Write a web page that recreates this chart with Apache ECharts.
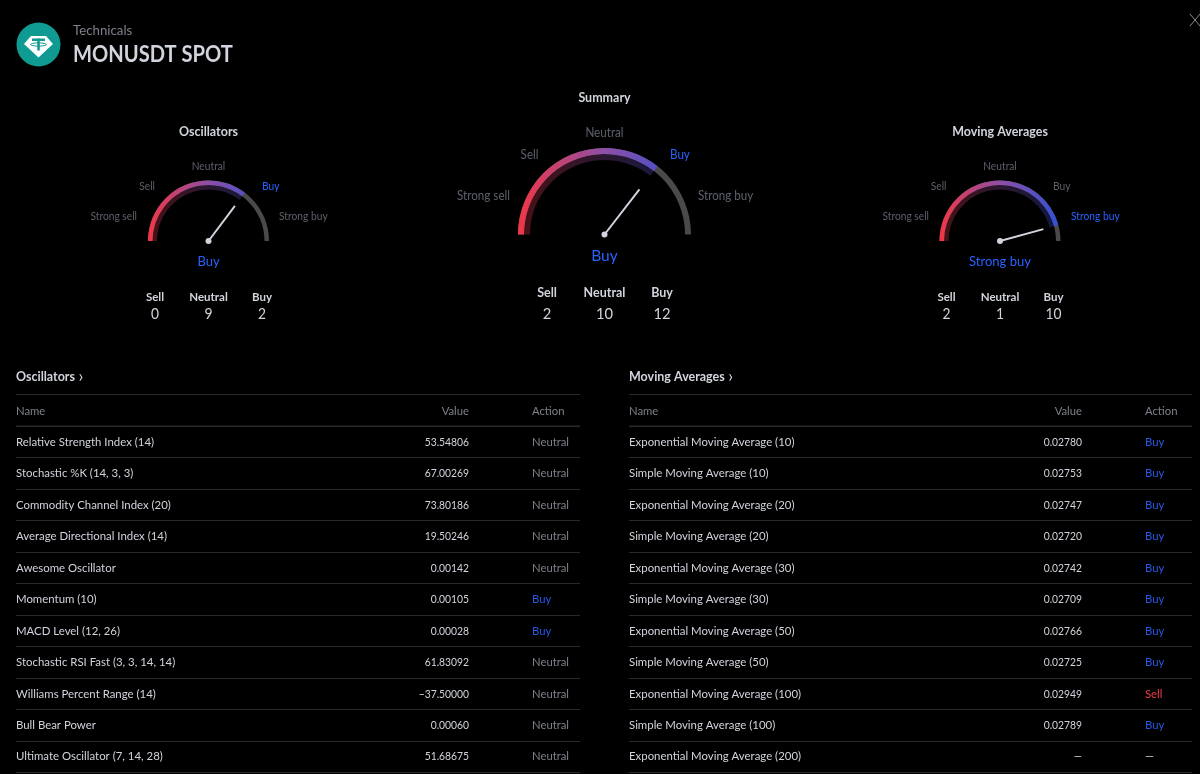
<!DOCTYPE html>
<html><head><meta charset="utf-8">
<style>html,body{margin:0;padding:0;background:#000}#c{width:1200px;height:774px}</style>
<script src="https://cdn.jsdelivr.net/npm/echarts@6/dist/echarts.min.js"></script>
</head><body><div id="c"></div>
<script>
const gaugeTitles = ['Oscillators', 'Summary', 'Moving Averages'];
const gaugeValues = [0.41, 0.42, 0.83];
const gaugeVerdicts = ['Buy', 'Buy', 'Strong buy'];
const scaleLabels = ['Strong sell', 'Sell', 'Neutral', 'Buy', 'Strong buy'];
const countLabels = ['Sell', 'Neutral', 'Buy'];
const oscCounts = [0, 9, 2];
const sumCounts = [2, 10, 12];
const maCounts = [2, 1, 10];

const tableHeads = ['Name', 'Value', 'Action'];
const oscNames = ['Relative Strength Index (14)', 'Stochastic %K (14, 3, 3)', 'Commodity Channel Index (20)', 'Average Directional Index (14)', 'Awesome Oscillator', 'Momentum (10)', 'MACD Level (12, 26)', 'Stochastic RSI Fast (3, 3, 14, 14)', 'Williams Percent Range (14)', 'Bull Bear Power', 'Ultimate Oscillator (7, 14, 28)'];
const oscValues = [53.54806, 67.00269, 73.80186, 19.50246, 0.00142, 0.00105, 0.00028, 61.83092, -37.5, 0.0006, 51.68675];
const oscActions = ['Neutral', 'Neutral', 'Neutral', 'Neutral', 'Neutral', 'Buy', 'Buy', 'Neutral', 'Neutral', 'Neutral', 'Neutral'];
const maNames = ['Exponential Moving Average (10)', 'Simple Moving Average (10)', 'Exponential Moving Average (20)', 'Simple Moving Average (20)', 'Exponential Moving Average (30)', 'Simple Moving Average (30)', 'Exponential Moving Average (50)', 'Simple Moving Average (50)', 'Exponential Moving Average (100)', 'Simple Moving Average (100)', 'Exponential Moving Average (200)'];
const maValues = [0.0278, 0.02753, 0.02747, 0.0272, 0.02742, 0.02709, 0.02766, 0.02725, 0.02949, 0.02789, null];
const maActions = ['Buy', 'Buy', 'Buy', 'Buy', 'Buy', 'Buy', 'Buy', 'Buy', 'Sell', 'Buy', '—'];

const FONT = 'Lato, sans-serif';
const WHITE = '#d1d4dc', GREY = '#5d606b', MID = '#7d8089', BLUE = '#2962ff', RED = '#f23645', LINE = '#2a2a2a';
const layouts = [
  {cx: 208.5, cy: 241, r: 60.5, len: 44, titleY: 131.5, verdictY: 21, fs: 11, vfs: 13, tfs: 13, cfs: 12, nfs: 15, countLY: 297.3, countVY: 314.3, dx: 53.5,
   spots: [[137,216.3,'right'],[155,186.3,'right'],[208.5,166.3,'center'],[262,186.3,'left'],[279,216.3,'left']]},
  {cx: 604.5, cy: 234.5, r: 86.5, len: 57, titleY: 98.3, verdictY: 21, fs: 12.5, vfs: 15.5, tfs: 13, cfs: 13, nfs: 16, countLY: 292.8, countVY: 314.3, dx: 57.5,
   spots: [[510,196.3,'right'],[538.5,155.3,'right'],[604.5,133.3,'center'],[670,155.3,'left'],[698,196.3,'left']]},
  {cx: 1000, cy: 241, r: 60.5, len: 45, titleY: 131.5, verdictY: 21, fs: 11, vfs: 13, tfs: 13, cfs: 12, nfs: 15, countLY: 297.3, countVY: 314.3, dx: 53.5,
   spots: [[929,216.3,'right'],[946.5,186.3,'right'],[1000,166.3,'center'],[1053,186.3,'left'],[1071,216.3,'left']]}
];
const allCounts = [oscCounts, sumCounts, maCounts];
const g = [];
function txt(text, x, y, fill, size, align, weight, sx) {
  g.push({type: 'text', silent: true, x: x, y: y, scaleX: sx || 1,
    style: {text, x: 0, y: 0, fill, font: (weight || 'normal') + ' ' + size + 'px ' + FONT, align: align || 'left', verticalAlign: 'middle'}});
}
function rule(x1, x2, y, w) {
  g.push({type: 'rect', silent: true, shape: {x: x1, y: y, width: x2 - x1, height: w || 1}, style: {fill: LINE}});
}
const series = [];
layouts.forEach((L, i) => {
  const grad = {type: 'linear', global: true, x: L.cx - L.r, y: 0, x2: L.cx + L.r, y2: 0,
    colorStops: [{offset: 0, color: '#f23645'}, {offset: 0.5, color: '#8e4fa6'}, {offset: 1, color: '#2f50d8'}]};
  const common = {type: 'gauge', center: [L.cx, L.cy], startAngle: 180, endAngle: 0, min: -1, max: 1, silent: true, animation: false,
    axisTick: {show: false}, splitLine: {show: false}, axisLabel: {show: false}, title: {show: false}};
  const w = L.r > 70 ? 6 : 4.5;
  series.push(Object.assign({}, common, {
    radius: L.r - w, pointer: {show: false}, anchor: {show: false}, detail: {show: false},
    progress: {show: true, width: w, itemStyle: {color: grad, opacity: 0.3}},
    axisLine: {show: false},
    data: [{value: gaugeValues[i]}]
  }));
  series.push(Object.assign({}, common, {
    radius: L.r,
    progress: {show: true, width: w, itemStyle: {color: grad}},
    axisLine: {roundCap: false, lineStyle: {width: w, color: [[1, '#4a4a4a']]}},
    pointer: {show: true, icon: 'rect', length: L.len, width: 2, offsetCenter: [0, 0], itemStyle: {color: WHITE}},
    anchor: {show: true, size: 6, showAbove: true, itemStyle: {color: WHITE, borderWidth: 0}},
    detail: {show: true, valueAnimation: false, offsetCenter: [0, L.verdictY], formatter: () => gaugeVerdicts[i],
      color: BLUE, fontFamily: 'Lato', fontWeight: 'normal', fontSize: L.vfs},
    data: [{value: gaugeValues[i]}]
  }));
  txt(gaugeTitles[i], L.cx, L.titleY, WHITE, L.tfs, 'center', 'bold', 0.96);
  scaleLabels.forEach((s, k) => {
    txt(s, L.spots[k][0], L.spots[k][1], s === gaugeVerdicts[i] ? BLUE : GREY, L.fs, L.spots[k][2], 'normal', 0.93);
  });
  countLabels.forEach((s, k) => {
    const x = L.cx + (k - 1) * L.dx;
    txt(s, x, L.countLY, WHITE, L.cfs, 'center', 'bold', 0.96);
    txt(String(allCounts[i][k]), x, L.countVY, WHITE, L.nfs, 'center', 'normal', 0.92);
  });
});

// header
g.push({type: 'circle', silent: true, shape: {cx: 38.5, cy: 44.5, r: 22}, style: {fill: '#0f9a92'}});
g.push({type: 'polygon', silent: true, shape: {points: [[31,36],[46,36],[53,44],[38.5,57.5],[24,44]]}, style: {fill: '#fff'}});
g.push({type: 'rect', silent: true, shape: {x: 32, y: 38.5, width: 13, height: 2.5}, style: {fill: '#0f9a92'}});
g.push({type: 'rect', silent: true, shape: {x: 37.3, y: 38.5, width: 2.5, height: 12}, style: {fill: '#0f9a92'}});
g.push({type: 'ellipse', silent: true, shape: {cx: 38.5, cy: 44.5, rx: 8, ry: 1.6}, style: {fill: 'none', stroke: '#0f9a92', lineWidth: 1}});
txt('Technicals', 73, 30.5, MID, 13, 'left', 'normal', 1.02);
txt('MONUSDT SPOT', 73, 54.5, WHITE, 22, 'left', 'bold', 0.915);
g.push({type: 'line', silent: true, shape: {x1: 1190, y1: 14, x2: 1200, y2: 26}, style: {stroke: '#8a8d96', lineWidth: 1}});
g.push({type: 'line', silent: true, shape: {x1: 1200, y1: 14, x2: 1190, y2: 26}, style: {stroke: '#8a8d96', lineWidth: 1}});

// tables
function fmt(v) { return v === null ? '—' : (v < 0 ? '−' : '') + Math.abs(v).toFixed(5); }
function actionColor(a) { return a === 'Buy' ? '#2659e6' : a === 'Sell' ? RED : a === 'Neutral' ? MID : WHITE; }
const meter = document.createElement('canvas').getContext('2d');
function table(x0, x1, title, names, vals, acts) {
  const rowH = 31.45, top = 426;
  txt(title, x0, 377.3, WHITE, 13, 'left', 'bold', 0.96);
  meter.font = 'bold 13px ' + FONT;
  txt('›', x0 + meter.measureText(title).width * 0.96 + 3.5, 376.6, WHITE, 17);
  rule(x0, x1, 394);
  txt(tableHeads[0], x0, 411.3, MID, 12, 'left', 'normal', 0.94);
  txt(tableHeads[1], x0 + 453, 411.3, MID, 12, 'right', 'normal', 0.94);
  txt(tableHeads[2], x0 + 516, 411.3, MID, 12, 'left', 'normal', 0.94);
  rule(x0, x1, top - 0.5, 1.5);
  names.forEach((n, k) => {
    const y = top + rowH * (k + 0.5) + 0.3;
    txt(n, x0, y, WHITE, 12, 'left', 'normal', 0.95);
    txt(fmt(vals[k]), x0 + 453, y, WHITE, 12, 'right', 'normal', 0.86);
    txt(acts[k], x0 + 516, y, actionColor(acts[k]), 12, 'left', 'normal', 0.94);
    rule(x0, x1, Math.round(top + rowH * (k + 1)));
  });
}
table(16, 580, 'Oscillators', oscNames, oscValues, oscActions);
table(629, 1192, 'Moving Averages', maNames, maValues, maActions);

const chart = echarts.init(document.getElementById('c'), null, {width: 1200, height: 774});
chart.setOption({backgroundColor: '#000', animation: false, series, graphic: {elements: g}});
</script></body></html>
